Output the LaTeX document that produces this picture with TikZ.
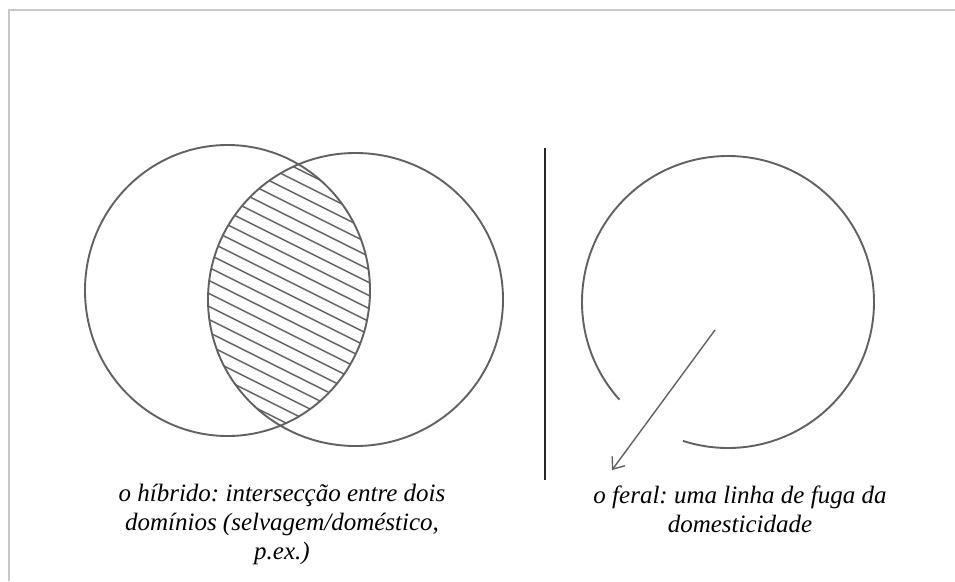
\documentclass[tikz,border=0pt]{standalone}
\usepackage{fontspec}
\setmainfont{Liberation Serif}
\usetikzlibrary{arrows.meta}
\frenchspacing
\tikzset{
  pencil/.style={draw=black!62, line width=1.9pt},
  hatch/.style={draw=black!62, line width=1.5pt},
  divider/.style={draw=black!85, line width=1.6pt},
  caption/.style={font=\fontsize{25}{29}\selectfont\itshape, align=center, anchor=north, inner sep=0pt},
  frameline/.style={draw=black!22, line width=1.5pt}
}
\begin{document}
\begin{tikzpicture}[x=1pt,y=-1pt]
\useasboundingbox (0,0) rectangle (955,581);
\draw[frameline] (9,581) -- (9,10) -- (955,10);
\draw[pencil] (227.5,290.5) ellipse [x radius=142.5, y radius=145.5];
\draw[pencil] (355.5,299.5) ellipse [x radius=147.5, y radius=146.5];
\begin{scope}
\clip (227.5,290.5) ellipse [x radius=142.5, y radius=145.5];
\clip (355.5,299.5) ellipse [x radius=147.5, y radius=146.5];
\foreach \c in {152,165,...,440}
  \draw[hatch] (190,\c-50) -- (390,\c+50);
\end{scope}
\coordinate (divtop) at (545,148);
\coordinate (divbot) at (545,480);
\draw[divider] (divtop) -- (divbot);
\draw[pencil] (728,302) ++(138:146) arc[start angle=138, end angle=468, radius=146];
\coordinate (escape) at (715,330);
\coordinate (away) at (612,470);
\draw[pencil, line width=1.4pt, -{Straight Barb[length=10pt,width=16pt]}] (escape) -- (away);
\node[caption] (hybrid) at (282,484) {o híbrido: intersecção entre dois\\domínios (selvagem/doméstico,\\p.ex.)};
\node[caption] (feral) at (740,486) {o feral: uma linha de fuga da\\domesticidade};
\end{tikzpicture}
\end{document}
